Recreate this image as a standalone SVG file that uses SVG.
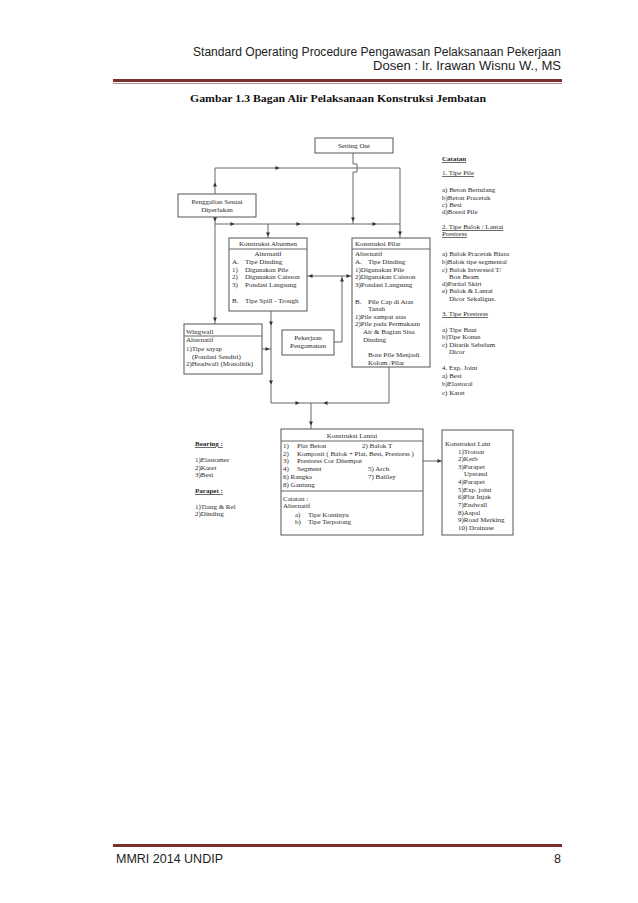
<svg xmlns="http://www.w3.org/2000/svg" width="638" height="903" viewBox="0 0 638 903">
<style>
.t{font-family:"Liberation Serif","Times New Roman",serif;font-size:7px;fill:#2a2a2a}
.c{text-anchor:middle}
.b{font-weight:bold}
.u{text-decoration:underline}
.box{fill:#fff;stroke:#555;stroke-width:1}
.ln{fill:none;stroke:#666;stroke-width:1}
.hd{font-family:"Liberation Sans","Open Sans",sans-serif;font-size:12.5px;fill:#222}
</style>
<defs>
<path id="ar" d="M1.5,0 L-2.5,-2 L-2.5,2 Z" fill="#333"/>
</defs>
<rect width="638" height="903" fill="#fff"/>

<g id="header">
<text class="hd" x="561" y="56" text-anchor="end" textLength="368" lengthAdjust="spacingAndGlyphs">Standard Operating Procedure Pengawasan Pelaksanaan Pekerjaan</text>
<text class="hd" x="561" y="70" text-anchor="end" textLength="188" lengthAdjust="spacingAndGlyphs">Dosen : Ir. Irawan Wisnu W., MS</text>
<rect x="113" y="79" width="449" height="3" fill="#7a2e2e"/>
<rect x="113" y="83" width="449" height="1" fill="#b58a8a"/>
<text x="190" y="102" font-family="Liberation Serif,serif" font-size="11px" font-weight="bold" fill="#111" textLength="296" lengthAdjust="spacingAndGlyphs">Gambar 1.3  Bagan Alir Pelaksanaan Konstruksi Jembatan</text>
</g>

<g id="connectors">
<path class="ln" d="M353,153 V164 H357 V172 H353 V224"/>
<path class="ln" d="M215,194 V168 H400 V238"/>
<path class="ln" d="M215,217 V324"/>
<path class="ln" d="M215,224 H400"/>
<path class="ln" d="M268,224 V238"/>
<path class="ln" d="M307,276 H352"/>
<path class="ln" d="M334,342 H342 V276"/>
<path class="ln" d="M271,311 V403 H389 V367"/>
<path class="ln" d="M262,349 H271"/>
<path class="ln" d="M311,403 V430"/>
<path class="ln" d="M423,461 H442"/>
<use href="#ar" transform="translate(215,184) rotate(-90)"/>
<use href="#ar" transform="translate(278,168)"/>
<use href="#ar" transform="translate(400,234) rotate(90)"/>
<use href="#ar" transform="translate(353,220) rotate(90)"/>
<use href="#ar" transform="translate(233,224)"/>
<use href="#ar" transform="translate(299,224)"/>
<use href="#ar" transform="translate(375,224)"/>
<use href="#ar" transform="translate(268,235) rotate(90)"/>
<use href="#ar" transform="translate(215,220) rotate(90)"/>
<use href="#ar" transform="translate(215,320) rotate(90)"/>
<use href="#ar" transform="translate(310,276) rotate(180)"/>
<use href="#ar" transform="translate(349,276)"/>
<use href="#ar" transform="translate(342,279) rotate(-90)"/>
<use href="#ar" transform="translate(271,324) rotate(90)"/>
<use href="#ar" transform="translate(271,383) rotate(90)"/>
<use href="#ar" transform="translate(268,349)"/>
<use href="#ar" transform="translate(298,403)"/>
<use href="#ar" transform="translate(325,403) rotate(180)"/>
<use href="#ar" transform="translate(311,424) rotate(90)"/>
<use href="#ar" transform="translate(440,461)"/>
</g>

<g id="setting-out">
<rect class="box" x="315" y="138" width="78" height="15"/>
<text class="t c" x="354" y="148">Setting Out</text>
</g>

<g id="penggalian">
<rect class="box" x="178" y="194" width="78" height="23"/>
<text class="t c" x="217" y="204">Penggalian Sesuai</text>
<text class="t c" x="217" y="212">Diperlukan</text>
</g>

<g id="abutmen">
<rect class="box" x="229" y="238" width="78" height="73"/>
<line class="ln" x1="229" y1="249" x2="307" y2="249" stroke="#555"/>
<text class="t c" x="268" y="246">Konstruksi Abutmen</text>
<text class="t c" x="268" y="256">Alternatif</text>
<text class="t" x="232" y="264">A.</text><text class="t" x="245" y="264">Tipe Dinding</text>
<text class="t" x="232" y="272">1)</text><text class="t" x="245" y="272">Digunakan Pile</text>
<text class="t" x="232" y="279">2)</text><text class="t" x="245" y="279">Digunakan Caisson</text>
<text class="t" x="232" y="287">3)</text><text class="t" x="245" y="287">Pondasi Langsung</text>
<text class="t" x="232" y="303">B.</text><text class="t" x="245" y="303">Tipe Spill - Trough</text>
</g>

<g id="pilar">
<rect class="box" x="352" y="238" width="78" height="129"/>
<line class="ln" x1="352" y1="249" x2="430" y2="249" stroke="#555"/>
<text class="t" x="355" y="246">Konstruksi Pilar</text>
<text class="t" x="355" y="256">Alternatif</text>
<text class="t" x="355" y="264">A.</text><text class="t" x="368" y="264">Tipe Dinding</text>
<text class="t" x="355" y="272">1)Digunakan Pile</text>
<text class="t" x="355" y="279">2)Digunakan Caisson</text>
<text class="t" x="355" y="287">3)Pondasi Langsung</text>
<text class="t" x="355" y="304">B.</text><text class="t" x="368" y="304">Pile Cap di Atas</text>
<text class="t" x="368" y="311">Tanah</text>
<text class="t" x="355" y="319">1)Pile sampai atas</text>
<text class="t" x="355" y="326">2)Pile pada Permukaan</text>
<text class="t" x="363" y="334">Air &amp; Bagian Sisa</text>
<text class="t" x="363" y="342">Dinding</text>
<text class="t" x="368" y="357">Bore Pile Menjadi</text>
<text class="t" x="368" y="365">Kolom /Pilar</text>
</g>

<g id="wingwall">
<rect class="box" x="184" y="324" width="78" height="50"/>
<line class="ln" x1="184" y1="336" x2="262" y2="336" stroke="#555"/>
<text class="t" x="186" y="334">Wingwall</text>
<text class="t" x="186" y="342">Alternatif</text>
<text class="t" x="186" y="351">1)Tipe sayap</text>
<text class="t" x="192" y="359">(Pondasi Sendiri)</text>
<text class="t" x="186" y="366">2)Headwall (Monolitik)</text>
</g>

<g id="pengamanan">
<rect class="box" x="282" y="330" width="52" height="25"/>
<text class="t c" x="308" y="340">Pekerjaan</text>
<text class="t c" x="308" y="348">Pengamanan</text>
</g>

<g id="catatan">
<text class="t b u" x="442" y="161">Catatan</text>
<text class="t u" x="442" y="175">1. Tipe Pile</text>
<text class="t" x="442" y="192">a) Beton Bertulang</text>
<text class="t" x="442" y="200">b)Beton Pracetak</text>
<text class="t" x="442" y="207">c) Besi</text>
<text class="t" x="442" y="214">d)Bored Pile</text>
<text class="t u" x="442" y="229">2. Tipe Balok / Lantai</text>
<text class="t u" x="442" y="236">Prestress</text>
<text class="t" x="442" y="256">a) Balok Pracetak Biasa</text>
<text class="t" x="442" y="264">b)Balok tipe segmental</text>
<text class="t" x="442" y="272">c) Balok Inversted T/</text>
<text class="t" x="449" y="279">Box Beam</text>
<text class="t" x="442" y="286">d)Partial Skirt</text>
<text class="t" x="442" y="293">e) Balok &amp; Lantai</text>
<text class="t" x="449" y="301">Dicor Sekaligus.</text>
<text class="t u" x="442" y="316">3. Tipe Prestress</text>
<text class="t" x="442" y="332">a) Tipe Baut</text>
<text class="t" x="442" y="339">b)Tipe Konus</text>
<text class="t" x="442" y="347">c) Ditarik Sebelum</text>
<text class="t" x="449" y="354">Dicor</text>
<text class="t" x="442" y="370">4. Exp. Joint</text>
<text class="t" x="442" y="378">a) Besi</text>
<text class="t" x="442" y="386">b)Elastoral</text>
<text class="t" x="442" y="395">c) Karet</text>
</g>

<g id="bearing">
<text class="t b u" x="195" y="446">Bearing :</text>
<text class="t" x="195" y="462">1)Elastomer</text>
<text class="t" x="195" y="470">2)Karet</text>
<text class="t" x="195" y="477">3)Besi</text>
<text class="t b u" x="195" y="493">Parapet :</text>
<text class="t" x="195" y="509">1)Tiang &amp; Rel</text>
<text class="t" x="195" y="516">2)Dinding</text>
</g>

<g id="lantai">
<rect class="box" x="281" y="429" width="142" height="106"/>
<line class="ln" x1="281" y1="441" x2="423" y2="441" stroke="#555"/>
<line class="ln" x1="281" y1="491" x2="423" y2="491" stroke="#555"/>
<text class="t c" x="352" y="438">Konstruksi Lantai</text>
<text class="t" x="283" y="448">1)</text><text class="t" x="297" y="448">Plat Beton</text><text class="t" x="362" y="448">2) Balok T</text>
<text class="t" x="283" y="456">2)</text><text class="t" x="297" y="456">Komposit ( Balok + Plat, Besi, Prestress )</text>
<text class="t" x="283" y="463">3)</text><text class="t" x="297" y="463">Prestress Cor Ditempat</text>
<text class="t" x="283" y="471">4)</text><text class="t" x="297" y="471">Segment</text><text class="t" x="368" y="471">5) Arch</text>
<text class="t" x="283" y="479">6) Rangka</text><text class="t" x="368" y="479">7) Bailley</text>
<text class="t" x="283" y="487">8) Gantung</text>
<text class="t" x="283" y="501">Catatan :</text>
<text class="t" x="283" y="508">Alternatif</text>
<text class="t" x="295" y="517">a)</text><text class="t" x="308" y="517">Tipe Kontinyu</text>
<text class="t" x="295" y="524">b)</text><text class="t" x="308" y="524">Tipe Terpotong</text>
</g>

<g id="lain">
<rect class="box" x="442" y="430" width="71" height="105"/>
<text class="t" x="445" y="446">Konstruksi Lain</text>
<text class="t" x="458" y="454">1)Trotoar</text>
<text class="t" x="458" y="461">2)Kerb</text>
<text class="t" x="458" y="469">3)Parapet</text>
<text class="t" x="464" y="476">Upstand</text>
<text class="t" x="458" y="484">4)Parapet</text>
<text class="t" x="458" y="492">5)Exp. joint</text>
<text class="t" x="458" y="499">6)Plat Injak</text>
<text class="t" x="458" y="507">7)Endwall</text>
<text class="t" x="458" y="515">8)Aspal</text>
<text class="t" x="458" y="522">9)Road Merking</text>
<text class="t" x="458" y="530">10)  Drainase</text>
</g>

<g id="footer">
<rect x="113" y="844" width="449" height="3" fill="#7a2e2e"/>
<text class="hd" x="116" y="863">MMRI 2014 UNDIP</text>
<text class="hd" x="561" y="863" text-anchor="end">8</text>
</g>
</svg>
